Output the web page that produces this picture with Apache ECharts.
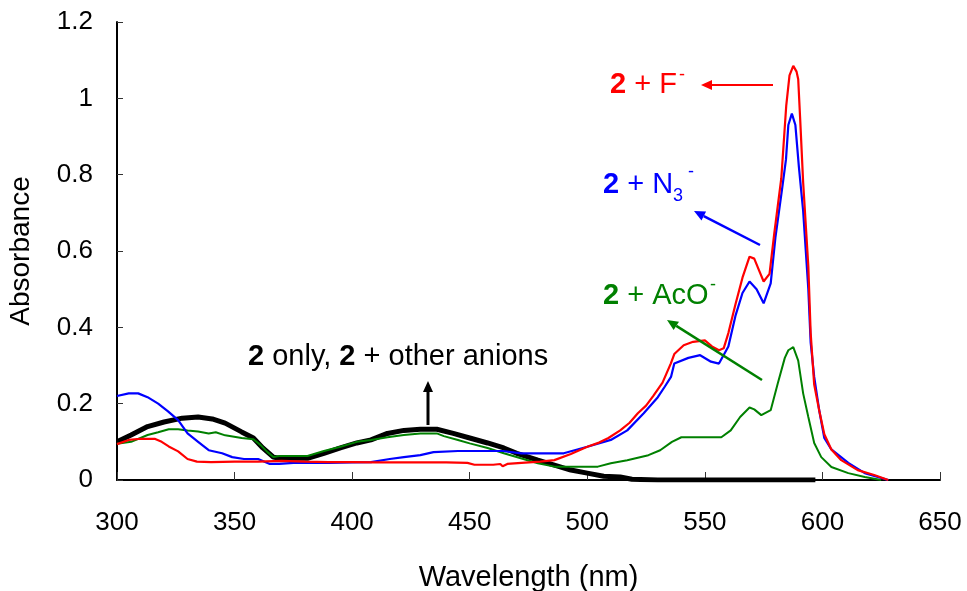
<!DOCTYPE html>
<html>
<head>
<meta charset="utf-8">
<script src="https://cdn.jsdelivr.net/npm/echarts@6/dist/echarts.min.js"></script>
<style>html,body{margin:0;padding:0;background:#fff}#c{width:967px;height:591px}</style>
</head>
<body>
<div id="c"></div>
<script>
// ---- data ----
const xTicks = [300, 350, 400, 450, 500, 550, 600, 650];
const yTicks = [0, 0.2, 0.4, 0.6, 0.8, 1, 1.2];

const wlOnly = [300,306,313,320,327.7,334.5,340.5,346,353,358,362,366.5,369,381,388,395,402,408,415,422,429,436,443,450,457.6,464.5,470,479,486,493,500,507,514,519,530,560,597];
const absOnly = [0.1,0.118,0.14,0.152,0.162,0.165,0.16,0.149,0.126,0.11,0.084,0.06,0.057,0.057,0.07,0.084,0.097,0.105,0.122,0.13,0.133,0.133,0.122,0.11,0.097,0.084,0.07,0.052,0.039,0.026,0.018,0.01,0.008,0.002,0,0,0];

const wlF = [300,305,310,316,319,322,326,330,334,340,350,360,370,380,390,400,410,420,430,440,449,452,460,463,464,466,472,480,486,493,500,505,509,514,518,521.5,525,528,532,535.5,537,541,545,550,553,556,558,560,563,566,569,571,573,575,577.5,579.5,582.5,584.6,586,587.6,589,589.7,590.5,591.8,594,595,596.5,598.7,600.8,603.8,608,615,622,628];
const absF = [0.094,0.105,0.108,0.108,0.1,0.088,0.075,0.055,0.048,0.047,0.048,0.048,0.05,0.048,0.047,0.047,0.046,0.046,0.046,0.046,0.045,0.04,0.04,0.042,0.036,0.042,0.045,0.048,0.052,0.068,0.087,0.098,0.11,0.13,0.15,0.175,0.195,0.22,0.255,0.305,0.33,0.353,0.362,0.366,0.35,0.34,0.345,0.385,0.46,0.53,0.585,0.58,0.55,0.52,0.54,0.645,0.79,0.98,1.06,1.085,1.07,1.05,0.95,0.78,0.56,0.385,0.25,0.18,0.12,0.08,0.052,0.026,0.013,0];

const wlN3 = [300,305,309,313,317.5,321.7,326,330,334.5,339,344.7,349,354,360,365,369,375,390,400,408,416,422,429,434.6,445,464,472,490,500,510,517,524,530,533,535.6,537,543,548,552.6,556,560,563,566,569,572,575,578,580,583,584.5,585.5,587,588.5,590,591.8,594,595,596.5,598.7,600.8,603.8,611,618,628];
const absN3 = [0.22,0.227,0.227,0.217,0.2,0.18,0.157,0.122,0.1,0.078,0.07,0.06,0.055,0.055,0.042,0.042,0.045,0.045,0.046,0.047,0.055,0.06,0.065,0.073,0.076,0.076,0.07,0.07,0.087,0.105,0.13,0.175,0.217,0.245,0.27,0.305,0.32,0.327,0.31,0.305,0.35,0.43,0.49,0.52,0.5,0.463,0.515,0.635,0.77,0.84,0.93,0.96,0.93,0.82,0.705,0.5,0.36,0.27,0.18,0.11,0.08,0.045,0.018,0];

const wlAcO = [300,306,313,317.5,322,326,330,334.5,339,342,346,353,358,361,364,366.5,369,381,388,395,402,408,415,422,429,436,439,445,450,457.6,464.5,471.7,479,486,504.5,510,517,526,531,536,540,557,561,565,569,571,574,578,581,584,585.5,587.6,589.7,591.8,594,596.5,599.5,603.8,611,618,625];
const absAcO = [0.095,0.1,0.118,0.125,0.133,0.133,0.13,0.127,0.122,0.125,0.117,0.11,0.107,0.092,0.073,0.06,0.063,0.063,0.076,0.087,0.1,0.105,0.112,0.118,0.122,0.122,0.115,0.105,0.096,0.084,0.07,0.057,0.044,0.035,0.035,0.044,0.052,0.065,0.078,0.1,0.112,0.112,0.13,0.165,0.19,0.185,0.17,0.183,0.253,0.32,0.34,0.348,0.313,0.227,0.165,0.097,0.06,0.034,0.018,0.008,0];

const zip = (xs, ys) => xs.map((x, i) => [x, ys[i]]);

const FONT = '"Liberation Sans", Arial, sans-serif';
const RED = '#ff0000', BLUE = '#0000ff', GREEN = '#008000', BLACK = '#000000';
const ANN = 29;

const chart = echarts.init(document.getElementById('c'), null, {renderer: 'canvas'});

function arrow(x1, y1, x2, y2, color, w) {
  const ang = Math.atan2(y2 - y1, x2 - x1);
  const L = 11, W = 5;
  const bx = x2 - L * Math.cos(ang), by = y2 - L * Math.sin(ang);
  const px = -Math.sin(ang) * W, py = Math.cos(ang) * W;
  return [
    {type: 'line', shape: {x1, y1, x2: bx, y2: by}, style: {stroke: color, lineWidth: w}, z: 100},
    {type: 'polygon', shape: {points: [[x2, y2], [bx + px, by + py], [bx - px, by - py]]}, style: {fill: color}, z: 100}
  ];
}
function label(x, y, text, color) {
  return {type: 'text', x, y, z: 100, style: {
    text, fill: color, font: ANN + 'px ' + FONT, verticalAlign: 'middle',
    rich: {
      b: {fontWeight: 'bold', fontSize: ANN, fontFamily: FONT, fill: color},
      n: {fontSize: ANN, fontFamily: FONT, fill: color}
    }
  }};
}
function small(x, y, text, color) {
  return {type: 'text', x, y, z: 100, style: {text, fill: color, font: '18px ' + FONT, verticalAlign: 'middle'}};
}

const graphics = [].concat(
  [label(610, 85, '{b|2}{n| + F}', RED), small(679, 75, '-', RED)],
  arrow(773, 85, 701, 85, RED, 2),
  [label(603, 185, '{b|2}{n| + N}', BLUE), small(673, 196, '3', BLUE), small(688, 172, '-', BLUE)],
  arrow(760, 245, 694, 211, BLUE, 2.5),
  [label(603, 296, '{b|2}{n| + AcO}', GREEN), small(710, 285, '-', GREEN)],
  arrow(762, 380, 667, 320, GREEN, 2.5),
  [label(248, 357, '{b|2}{n| only, }{b|2}{n| + other anions}', BLACK)],
  arrow(428, 425, 428, 381, BLACK, 3)
);

function lineSeries(name, data, color, width) {
  return {name, type: 'line', data, showSymbol: false, symbol: 'none', smooth: false,
    lineStyle: {color, width}, itemStyle: {color}, animation: false, clip: true};
}

chart.setOption({
  animation: false,
  backgroundColor: '#fff',
  grid: {left: 117, right: 27, top: 22, bottom: 111, containLabel: false, outerBoundsMode: 'none'},
  xAxis: {
    type: 'value', min: xTicks[0], max: xTicks[xTicks.length - 1], interval: 50,
    name: 'Wavelength (nm)', nameLocation: 'middle', nameGap: 83,
    nameTextStyle: {fontFamily: FONT, fontSize: 29, color: '#000'},
    axisLine: {show: true, onZero: false, lineStyle: {color: '#000', width: 2}},
    axisTick: {show: true, inside: true, length: 8, lineStyle: {color: '#333', width: 1}},
    axisLabel: {fontFamily: FONT, fontSize: 26, color: '#000', margin: 30},
    splitLine: {show: false}
  },
  yAxis: {
    type: 'value', min: yTicks[0], max: yTicks[yTicks.length - 1], interval: 0.2,
    name: 'Absorbance', nameLocation: 'middle', nameGap: 82, nameRotate: 90,
    nameTextStyle: {fontFamily: FONT, fontSize: 28, color: '#000'},
    axisLine: {show: true, lineStyle: {color: '#000', width: 2}},
    axisTick: {show: true, inside: true, length: 6, lineStyle: {color: '#333', width: 1}},
    axisLabel: {fontFamily: FONT, fontSize: 26, color: '#000', margin: 24},
    splitLine: {show: false}
  },
  series: [
    lineSeries('2 only', zip(wlOnly, absOnly), BLACK, 5),
    lineSeries('2 + AcO-', zip(wlAcO, absAcO), GREEN, 2),
    lineSeries('2 + N3-', zip(wlN3, absN3), BLUE, 2.2),
    lineSeries('2 + F-', zip(wlF, absF), RED, 2.2)
  ],
  graphic: graphics
});
</script>
</body>
</html>
